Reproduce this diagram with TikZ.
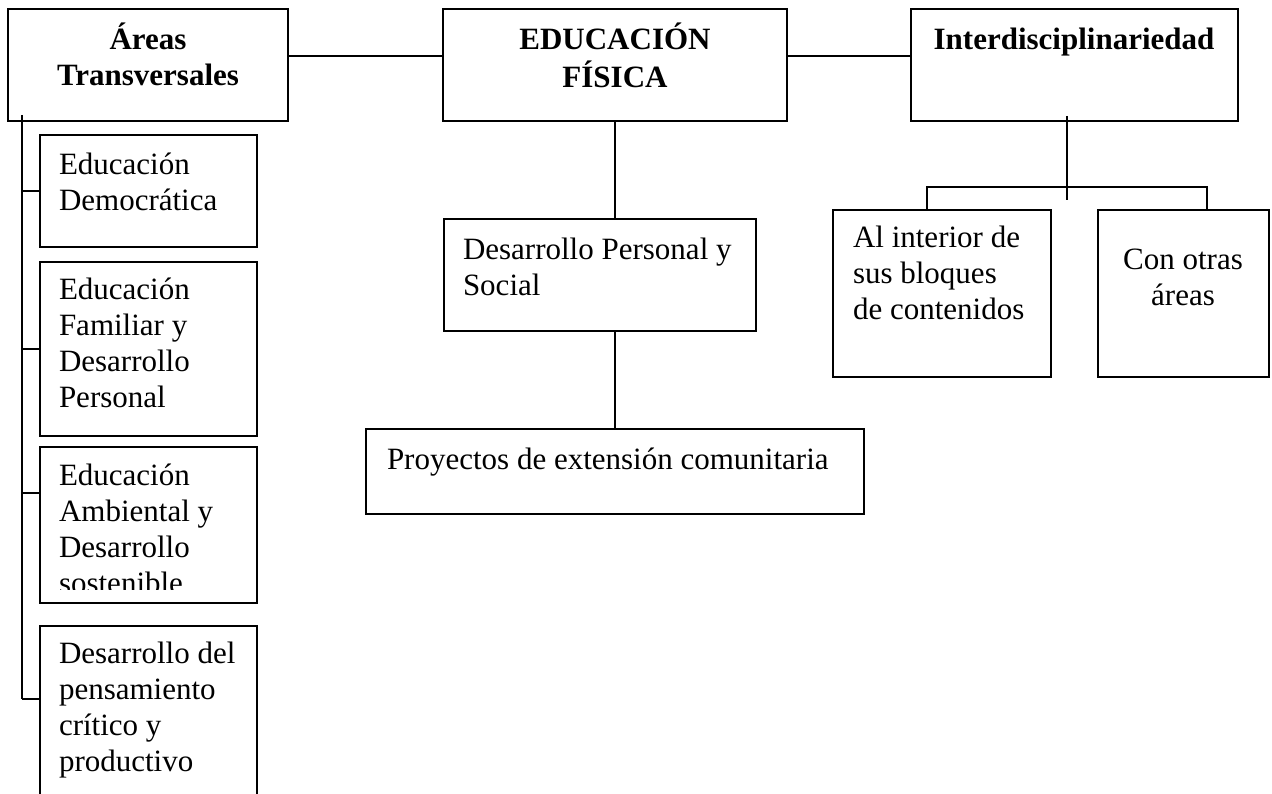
\documentclass[tikz,border=0pt]{standalone}
\usepackage{fontspec}
\setmainfont{Liberation Serif}
\newcommand{\mytabl}[1]{\begin{tabular}[t]{@{}l@{}}#1\end{tabular}}
\newcommand{\mytabc}[1]{\begin{tabular}[t]{@{}c@{}}#1\end{tabular}}
\begin{document}
\begin{tikzpicture}[x=1pt,y=-1pt,
  box/.style={draw,line width=1.7pt,anchor=north west,inner sep=0pt,outer sep=0pt},
  lbl/.style={inner sep=0pt,outer sep=0pt,font=\fontsize{31}{36}\selectfont},
  conn/.style={line width=1.7pt}]
\useasboundingbox (0,0) rectangle (1272,794);
\fill[white] (0,0) rectangle (1272,794);

% boxes
\node[box,minimum width=280pt,minimum height=112pt] (areas) at (8,9) {};
\node[box,minimum width=344pt,minimum height=112pt] (ef) at (443,9) {};
\node[box,minimum width=327pt,minimum height=112pt] (interd) at (911,9) {};
\node[box,minimum width=217pt,minimum height=112pt] (b1) at (40,135) {};
\node[box,minimum width=217pt,minimum height=174pt] (b2) at (40,262) {};
\node[box,minimum width=217pt,minimum height=156pt] (b3) at (40,447) {};
\node[box,minimum width=217pt,minimum height=200pt] (b4) at (40,626) {};
\node[box,minimum width=312pt,minimum height=112pt] (dps) at (444,219) {};
\node[box,minimum width=498pt,minimum height=85pt] (proy) at (366,429) {};
\node[box,minimum width=218pt,minimum height=167pt] (alint) at (833,210) {};
\node[box,minimum width=171pt,minimum height=167pt] (otras) at (1098,210) {};

% texts
\node[lbl,anchor=base] (tareas) at (148,50) {\bfseries\mytabc{Áreas\\Transversales}};
\node[lbl,anchor=base] (tef) at (615,50) {\bfseries\mytabc{EDUCACIÓN\\FÍSICA}};
\node[lbl,anchor=base] (tinterd) at (1074,50) {\bfseries Interdisciplinariedad};
\node[lbl,anchor=base west] (t1) at (59,175) {\mytabl{Educación\\Democrática}};
\node[lbl,anchor=base west] (t2) at (59,300) {\mytabl{Educación\\Familiar y\\Desarrollo\\Personal}};
\begin{scope}
\clip (40,447) rectangle (257,589);
\node[lbl,anchor=base west] (t3) at (59,485) {\mytabl{Educación\\Ambiental y\\Desarrollo\\sostenible}};
\end{scope}
\node[lbl,anchor=base west] (t4) at (59,663) {\mytabl{Desarrollo del\\pensamiento\\crítico y\\productivo}};
\node[lbl,anchor=base west] (tdps) at (463,260) {\mytabl{Desarrollo Personal y\\Social}};
\node[lbl,anchor=base west] (tproy) at (387,469) {Proyectos de extensión comunitaria};
\node[lbl,anchor=base west] (talint) at (853,248) {\mytabl{Al interior de\\sus bloques\\de contenidos}};
\node[lbl,anchor=base] (totras) at (1183,270) {\mytabc{Con otras\\áreas}};

% connectors
\draw[conn] ([yshift=9pt]areas.east) -- ([yshift=9pt]ef.west);
\draw[conn] ([yshift=9pt]ef.east) -- ([yshift=9pt]interd.west);
\draw[conn] (ef.south) -- (ef.south |- dps.north);
\draw[conn] (dps.south -| proy.north) -- (proy.north);

\coordinate (tj) at (1067,200);
\coordinate (hl) at (927,187);
\coordinate (hr) at (1207,187);
\draw[conn] ([yshift=5pt]interd.south -| tj) -- (tj);
\draw[conn] (hl |- alint.north) -- (hl) -- (hr) -- (hr |- otras.north);

\coordinate (lt) at (22,115);
\coordinate (lb) at (22,699);
\draw[conn] (lt) -- (lb);
\draw[conn] (b1.west) -- (b1.west -| lt);
\draw[conn] (b2.west) -- (b2.west -| lt);
\draw[conn] ([yshift=32pt]b3.west) -- ([yshift=32pt]b3.west -| lt);
\draw[conn] ([yshift=-73pt]b4.north west) -- (lb);
\end{tikzpicture}
\end{document}
